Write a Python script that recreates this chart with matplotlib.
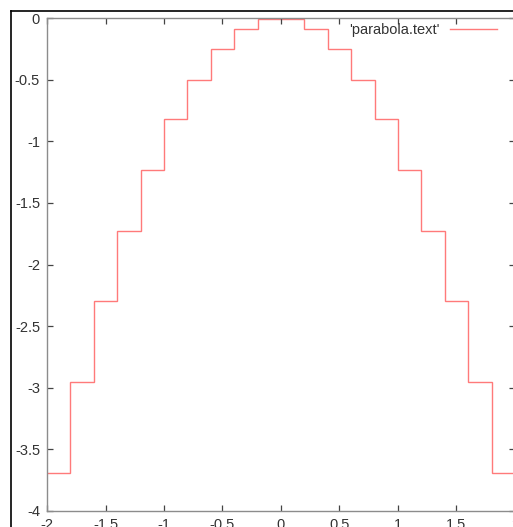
import numpy as np
import matplotlib.pyplot as plt
from matplotlib.lines import Line2D

plt.rcParams['font.family'] = ['Liberation Sans', 'DejaVu Sans']

# step edges and levels
edges = [-2.0, -1.8, -1.6, -1.4, -1.2, -1.0, -0.8, -0.6, -0.4, -0.2,
         0.2, 0.4, 0.6, 0.8, 1.0, 1.2, 1.4, 1.6, 1.8, 2.0]
levels = [-3.69, -2.95, -2.30, -1.73, -1.23, -0.82, -0.50, -0.25, -0.09,
          -0.005,
          -0.09, -0.25, -0.50, -0.82, -1.23, -1.73, -2.30, -2.95, -3.69]
xticks = [-2, -1.5, -1, -0.5, 0, 0.5, 1, 1.5, 2]
yticks = [0, -0.5, -1, -1.5, -2, -2.5, -3, -3.5, -4]

W, H = 513, 527
fig = plt.figure(figsize=(W / 100, H / 100), dpi=100)
ax = fig.add_axes([47 / W, 16 / H, 468 / W, 493 / H])

ax.stairs(levels, edges, baseline=None, color='#ff7a7a', lw=1.0,
          label="'parabola.text'")

ax.set_xlim(-2, 2)
ax.set_ylim(-4, 0)
ax.set_xticks(xticks)
ax.set_yticks(yticks)
ax.set_xticklabels([('%g' % v) for v in xticks])
ax.set_yticklabels([('%g' % v) for v in yticks])
for s in ax.spines.values():
    s.set_color('#8c8c8c')
    s.set_linewidth(1.0)
ax.tick_params(direction='in', length=4.5, width=0.9, color='#444444',
               top=True, right=True, labelsize=10.5, labelcolor='#333333', pad=5)

ax.legend(loc='upper right', bbox_to_anchor=(450 / 468, 0.99),
          frameon=False, markerfirst=False, borderpad=0, borderaxespad=0,
          handlelength=3.2, handletextpad=0.75, fontsize=10.5,
          labelcolor='#333333')

# outer frame of the screenshot
fig.add_artist(Line2D([11 / W, 11 / W], [0, 1 - 11 / H], transform=fig.transFigure,
                      color='black', lw=1.2))
fig.add_artist(Line2D([11 / W, 1], [1 - 11 / H, 1 - 11 / H], transform=fig.transFigure,
                      color='black', lw=1.2))

fig.savefig('out.png', dpi=100)
